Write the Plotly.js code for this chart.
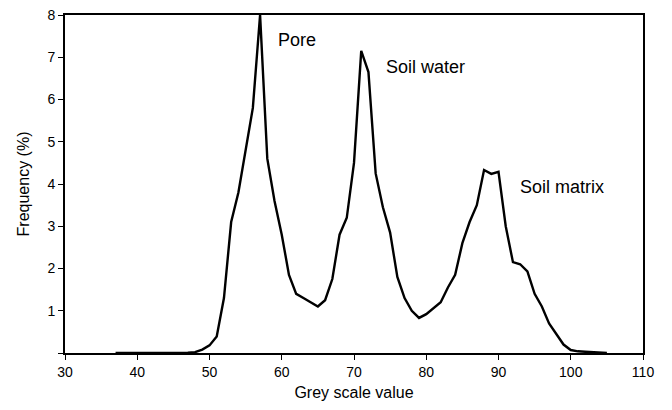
<!DOCTYPE html>
<html>
<head>
<meta charset="utf-8">
<script src="https://cdn.plot.ly/plotly-3.0.1.min.js"></script>
<style>html,body{margin:0;padding:0;background:#fff;}#chart{width:672px;height:410px;}</style>
</head>
<body>
<div id="chart"></div>
<script>
const greyValues = [37,38,39,40,41,42,43,44,45,46,47,48,49,50,51,52,53,54,55,56,57,58,59,60,61,62,63,64,65,66,67,68,69,70,71,72,73,74,75,76,77,78,79,80,81,82,83,84,85,86,87,88,89,90,91,92,93,94,95,96,97,98,99,100,101,102,103,104,105];
const frequency = [0,0,0,0,0,0,0,0,0.003,0.005,0.01,0.02,0.08,0.18,0.39,1.3,3.1,3.8,4.8,5.8,8.0,4.6,3.6,2.8,1.85,1.4,1.3,1.2,1.1,1.25,1.75,2.8,3.2,4.5,7.15,6.65,4.25,3.45,2.85,1.8,1.3,1.0,0.83,0.92,1.05,1.2,1.55,1.85,2.6,3.1,3.5,4.33,4.24,4.29,3.0,2.15,2.1,1.93,1.4,1.1,0.7,0.45,0.2,0.07,0.04,0.03,0.02,0.01,0];
const xTicks = [30,40,50,60,70,80,90,100,110];
const yTicks = [0,1,2,3,4,5,6,7,8];
const yTickText = ['','1','2','3','4','5','6','7','8'];
const peakLabels = ['Pore','Soil water','Soil matrix'];
const peakLabelX = [59.2,74.1,92.7];
const peakLabelY = [7.41,6.77,3.93];

const font = {family:'Liberation Sans, Arial, sans-serif', color:'#000'};
const data = [{
  x: greyValues, y: frequency, type:'scatter', mode:'lines',
  line:{color:'#000', width:2.4}, hoverinfo:'skip'
}];
const annotations = peakLabels.map((t,i)=>({
  text:t, x:peakLabelX[i], y:peakLabelY[i], xref:'x', yref:'y',
  xanchor:'left', yanchor:'middle', showarrow:false,
  font:Object.assign({}, font, {size:18})
}));
const layout = {
  width:672, height:410,
  margin:{l:65, r:29, t:15, b:57},
  paper_bgcolor:'#fff', plot_bgcolor:'#fff',
  showlegend:false,
  font:Object.assign({}, font, {size:14}),
  xaxis:{
    range:[30,110], tickvals:xTicks, ticks:'outside', ticklen:5, tickwidth:1, tickcolor:'#000',
    showline:true, linecolor:'#000', linewidth:2, mirror:true, showgrid:false, zeroline:false,
    tickfont:Object.assign({}, font, {size:14}),
    title:{text:'Grey scale value', font:Object.assign({}, font, {size:16}), standoff:8}
  },
  yaxis:{
    range:[0,8], tickvals:yTicks, ticktext:yTickText, ticks:'outside', ticklen:5, tickwidth:1, tickcolor:'#000',
    showline:true, linecolor:'#000', linewidth:2, mirror:true, showgrid:false, zeroline:false,
    tickfont:Object.assign({}, font, {size:14}),
    title:{text:'Frequency (%)', font:Object.assign({}, font, {size:16}), standoff:14}
  },
  annotations: annotations
};
Plotly.newPlot('chart', data, layout, {staticPlot:true, displayModeBar:false});
</script>
</body>
</html>
